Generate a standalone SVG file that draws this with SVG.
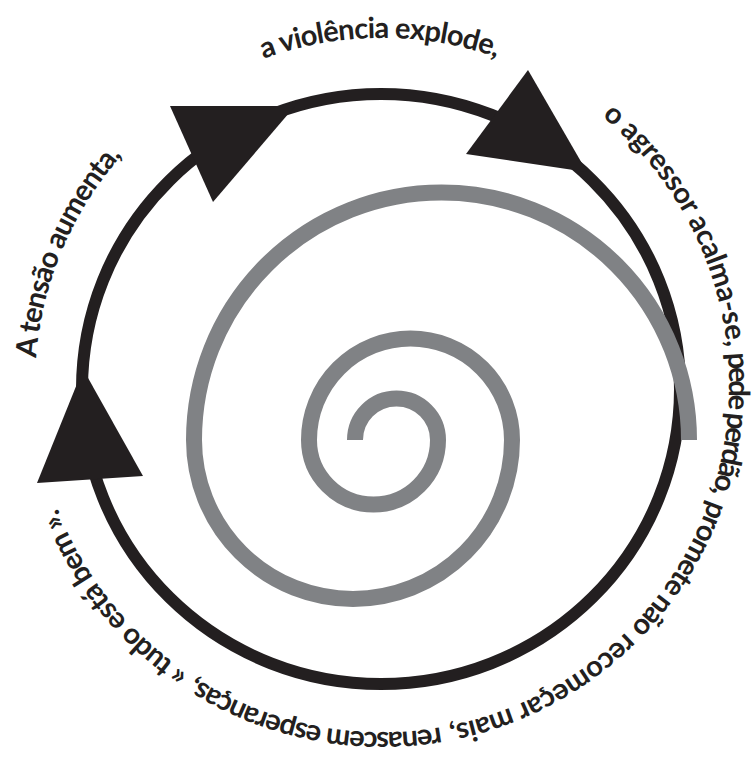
<svg xmlns="http://www.w3.org/2000/svg" xmlns:xlink="http://www.w3.org/1999/xlink" width="754" height="759" viewBox="0 0 754 759">
<style>
.lbl{font-family:Lato,"Open Sans","DejaVu Sans",sans-serif;font-weight:700;font-size:29px;fill:#231f20}
.ring{fill:none;stroke:#231f20;stroke-width:12}
.head{fill:#231f20}
.spiral{fill:none;stroke:#808285;stroke-width:16;stroke-linecap:butt}
</style>
<defs>
<path id="tp" d="M 35 385 A 347 347 0 1 1 729 385 A 347 347 0 1 1 35 385"/>
</defs>
<rect width="754" height="759" fill="#ffffff"/>
<g id="connectors">
<ellipse class="ring" cx="381" cy="389" rx="299" ry="295"/>
<polygon class="head" points="170,106 295,106 213,202"/>
<polygon class="head" points="528,70 587,172 466,154"/>
<polygon class="head" points="83,369 143,476 37,483"/>
</g>
<g id="spiral">
<path class="spiral" d="M 355 440 A 41.5 41.5 0 0 1 438 440 A 64.5 64.5 0 0 1 309 440 A 101.5 101.5 0 0 1 512 440 A 159 159 0 0 1 194 440 A 247.5 247.5 0 0 1 689 440"/>
</g>
<g id="label-tension">
<text class="lbl"><textPath xlink:href="#tp" href="#tp" startOffset="27" textLength="224" lengthAdjust="spacing">A tensão aumenta,</textPath></text>
</g>
<g id="label-violence">
<text class="lbl"><textPath xlink:href="#tp" href="#tp" startOffset="424" textLength="238" lengthAdjust="spacing">a violência explode,</textPath></text>
</g>
<g id="label-calm">
<text class="lbl"><textPath xlink:href="#tp" href="#tp" startOffset="783" textLength="269" lengthAdjust="spacing">o agressor acalma-se,</textPath></text>
<text class="lbl"><textPath xlink:href="#tp" href="#tp" startOffset="1058" textLength="142" lengthAdjust="spacing">pede perdão,</textPath></text>
<text class="lbl"><textPath xlink:href="#tp" href="#tp" startOffset="1207" textLength="151" lengthAdjust="spacing">promete não</textPath></text>
<text class="lbl"><textPath xlink:href="#tp" href="#tp" startOffset="1365" textLength="203" lengthAdjust="spacing">recomeçar mais,</textPath></text>
<text class="lbl"><textPath xlink:href="#tp" href="#tp" startOffset="1576" textLength="256" lengthAdjust="spacing">renascem esperanças,</textPath></text>
<text class="lbl"><textPath xlink:href="#tp" href="#tp" startOffset="1840" textLength="214" lengthAdjust="spacing">« tudo está bem ».</textPath></text>
</g>
</svg>
